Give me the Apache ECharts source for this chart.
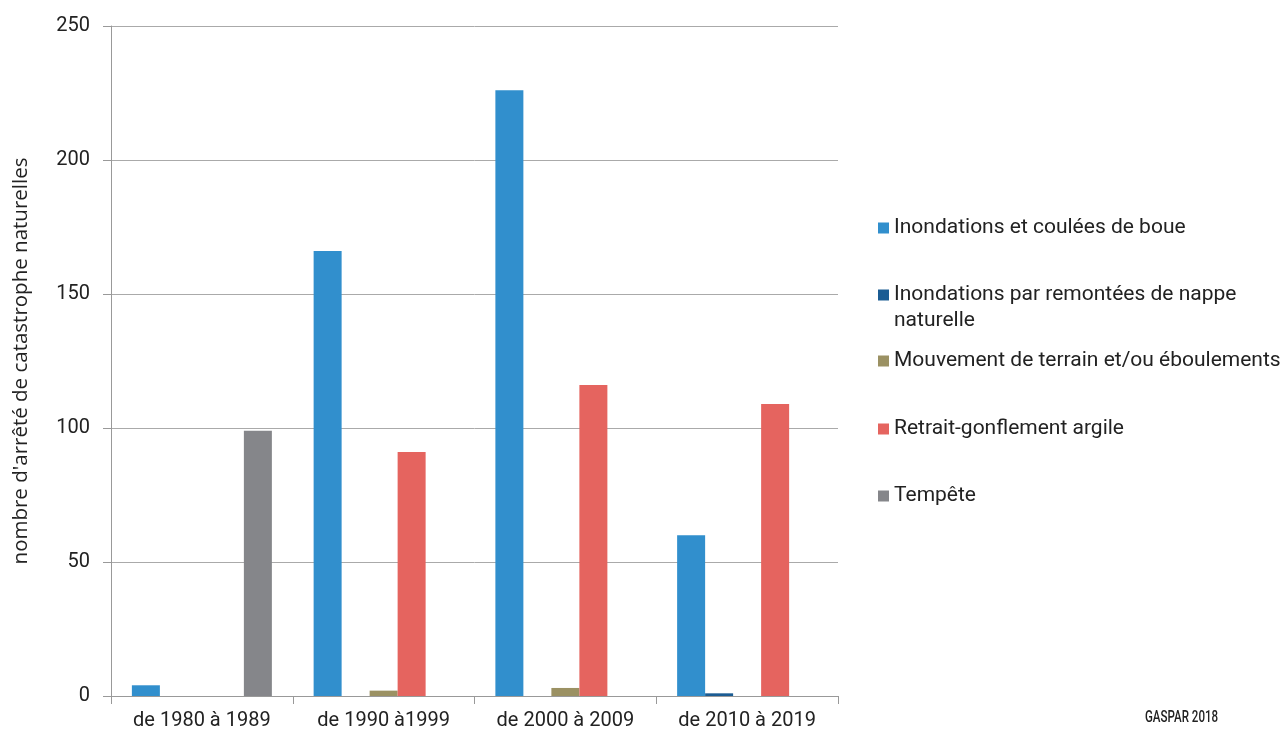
<!DOCTYPE html>
<html>
<head>
<meta charset="utf-8">
<script src="https://cdn.jsdelivr.net/npm/echarts@6/dist/echarts.min.js"></script>
<style>
html,body{margin:0;padding:0;background:#fff;}
#chart{width:1285px;height:733px;}
</style>
</head>
<body>
<div id="chart"></div>
<script>
const categories = ["de 1980 à 1989", "de 1990 à1999", "de 2000 à 2009", "de 2010 à 2019"];
const seriesNames = [
  "Inondations et coulées de boue",
  "Inondations par remontées de nappe naturelle",
  "Mouvement de terrain et/ou éboulements",
  "Retrait-gonflement argile",
  "Tempête"
];
const inondationsBoue = [4, 166, 226, 60];
const inondationsNappe = [0, 0, 0, 1];
const mouvementTerrain = [0, 2, 3, 0];
const retraitArgile = [0, 91, 116, 109];
const tempete = [99, 0, 0, 0];
const yTicks = [0, 50, 100, 150, 200, 250];
const yAxisTitle = "nombre d'arrêté de catastrophe naturelles";
const sourceText = "GASPAR 2018";

const colors = ["#318FCD", "#1B5C93", "#9B9163", "#E5645F", "#85868A"];
const values = [inondationsBoue, inondationsNappe, mouvementTerrain, retraitArgile, tempete];
const legendCenters = [228, 295, 361, 429, 496];
const font = "Roboto, 'Noto Sans', sans-serif";

const chart = echarts.init(document.getElementById('chart'));

const legends = seriesNames.map((n, i) => ({
  data: [n],
  orient: 'vertical',
  left: 878,
  top: legendCenters[i] - 11,
  padding: 0,
  itemWidth: 11,
  itemHeight: 11,
  icon: 'rect',
  selectedMode: false,
  formatter: (name) => name === seriesNames[1] ? "Inondations par remontées de nappe" : name,
  textStyle: { fontSize: 21, color: '#222', fontFamily: font, lineHeight: 22 }
}));

chart.setOption({
  animation: false,
  color: colors,
  grid: { left: 111, right: 447, top: 26, bottom: 37 },
  legend: legends,
  xAxis: {
    type: 'category',
    data: categories,
    axisLine: { lineStyle: { color: '#999', width: 1 } },
    axisTick: { show: true, length: 8, lineStyle: { color: '#999' } },
    axisLabel: { fontSize: 20, color: '#222', fontFamily: font, margin: 15 }
  },
  yAxis: {
    type: 'value',
    min: yTicks[0],
    max: yTicks[yTicks.length - 1],
    interval: yTicks[1] - yTicks[0],
    name: yAxisTitle,
    nameLocation: 'middle',
    nameGap: 79,
    nameTextStyle: { fontSize: 20.5, color: '#222', fontFamily: "'Open Sans', 'Noto Sans', sans-serif" },
    axisLine: { show: true, lineStyle: { color: '#999', width: 1 } },
    axisTick: { show: true, length: 8, lineStyle: { color: '#999' } },
    axisLabel: { fontSize: 20, color: '#222', fontFamily: font, margin: 21 },
    splitLine: { lineStyle: { color: '#aaa', width: 1 } }
  },
  series: seriesNames.map((n, i) => ({
    name: n,
    type: 'bar',
    data: values[i],
    barWidth: 28,
    barGap: '0%',
    itemStyle: { color: colors[i] }
  })),
  graphic: [
    {
      type: 'text',
      left: 894,
      top: 310,
      style: { text: "naturelle", fontSize: 21, fill: '#222', fontFamily: font, lineHeight: 22 }
    },
    {
      type: 'text',
      x: 1145,
      y: 709,
      scaleX: 0.68,
      style: { text: sourceText, fontSize: 17, fill: '#222', fontFamily: font, fontWeight: 500 }
    }
  ]
});
</script>
</body>
</html>
